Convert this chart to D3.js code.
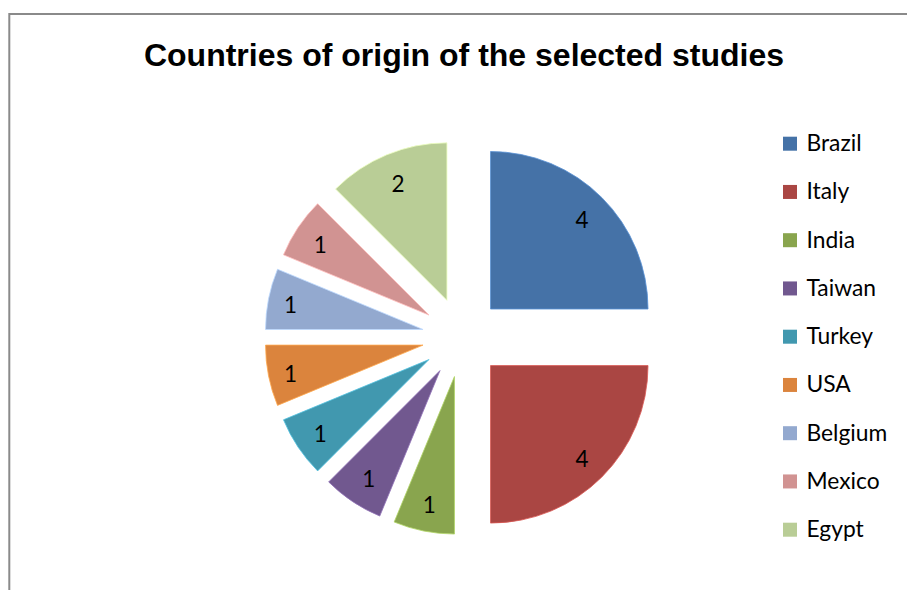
<!DOCTYPE html>
<html>
<head>
<meta charset="utf-8">
<script src="https://cdn.jsdelivr.net/npm/d3@7"></script>
<style>
  html, body { margin: 0; padding: 0; background: #fff; }
  svg { display: block; }
</style>
</head>
<body>
<svg id="chart" width="907" height="590"></svg>
<script>
// Countries of origin and number of selected studies from each
const countries = ["Brazil", "Italy", "India", "Taiwan", "Turkey", "USA", "Belgium", "Mexico", "Egypt"];
const studies = [4, 4, 1, 1, 1, 1, 1, 1, 2];
const sliceColors = ["#4572A7", "#AA4643", "#89A54E", "#71588F", "#4198AF", "#DB843D", "#93A9CF", "#D19392", "#B9CD96"];
const chartTitle = "Countries of origin of the selected studies";

const svg = d3.select("#chart");

// chart area frame (right and bottom edges run off the page)
svg.append("rect")
  .attr("x", 9.3).attr("y", 14)
  .attr("width", 1000).attr("height", 1000)
  .attr("fill", "#fff")
  .attr("stroke", "#8a8a8a")
  .attr("stroke-width", 2);

// title
svg.append("text")
  .attr("x", 464).attr("y", 66)
  .attr("text-anchor", "middle")
  .attr("font-family", "'Liberation Sans', Arial, sans-serif")
  .attr("font-weight", "bold")
  .attr("font-size", 32)
  .attr("fill", "#000")
  .text(chartTitle);

// exploded pie
const cx = 462.25, cy = 337.3, R = 157.5, explode = 40;
const color = d3.scaleOrdinal().domain(countries).range(sliceColors);
const pie = d3.pie().sort(null).value(d => d.value).startAngle(0).endAngle(2 * Math.PI);
const arc = d3.arc().innerRadius(0).outerRadius(R);
const data = countries.map((c, i) => ({ country: c, value: studies[i] }));
const arcs = pie(data);

const g = svg.append("g").attr("transform", `translate(${cx},${cy})`);

const slice = g.selectAll("g.slice").data(arcs).join("g")
  .attr("class", "slice")
  .attr("transform", d => {
    const mid = (d.startAngle + d.endAngle) / 2;
    return `translate(${Math.sin(mid) * explode},${-Math.cos(mid) * explode})`;
  });

slice.append("path")
  .attr("d", arc)
  .attr("fill", d => color(d.data.country))
  .attr("stroke", d => d3.color(color(d.data.country)).brighter(0.7))
  .attr("stroke-width", 0.8);

// value labels, placed inside the outer edge of each slice
const labelFont = 22.5, pad = 13, halfH = 15;
slice.append("text")
  .attr("font-family", "Lato, 'Open Sans', sans-serif")
  .attr("font-size", labelFont)
  .attr("fill", "#000")
  .attr("text-anchor", "middle")
  .text(d => d.data.value)
  .each(function (d) {
    const mid = (d.startAngle + d.endAngle) / 2;
    const s = Math.sin(mid), c = -Math.cos(mid);
    const halfW = this.getComputedTextLength() / 2;
    const dist = R - pad - (halfW * Math.abs(s) + halfH * Math.abs(c));
    const x = s * dist, y = c * dist + 2;
    d3.select(this).attr("x", x).attr("y", y + labelFont * 0.36);
  });

// legend
const legend = svg.append("g").attr("transform", "translate(783,143.7)");
const rowGap = 48.25;
const item = legend.selectAll("g").data(countries).join("g")
  .attr("transform", (d, i) => `translate(0,${i * rowGap})`);
item.append("rect")
  .attr("x", 0).attr("y", -7)
  .attr("width", 14).attr("height", 14)
  .attr("fill", d => color(d));
item.append("text")
  .attr("x", 23.5).attr("y", 7.5)
  .attr("font-family", "Lato, 'Open Sans', sans-serif")
  .attr("font-size", 22.8)
  .attr("fill", "#000")
  .text(d => d);
</script>
</body>
</html>
